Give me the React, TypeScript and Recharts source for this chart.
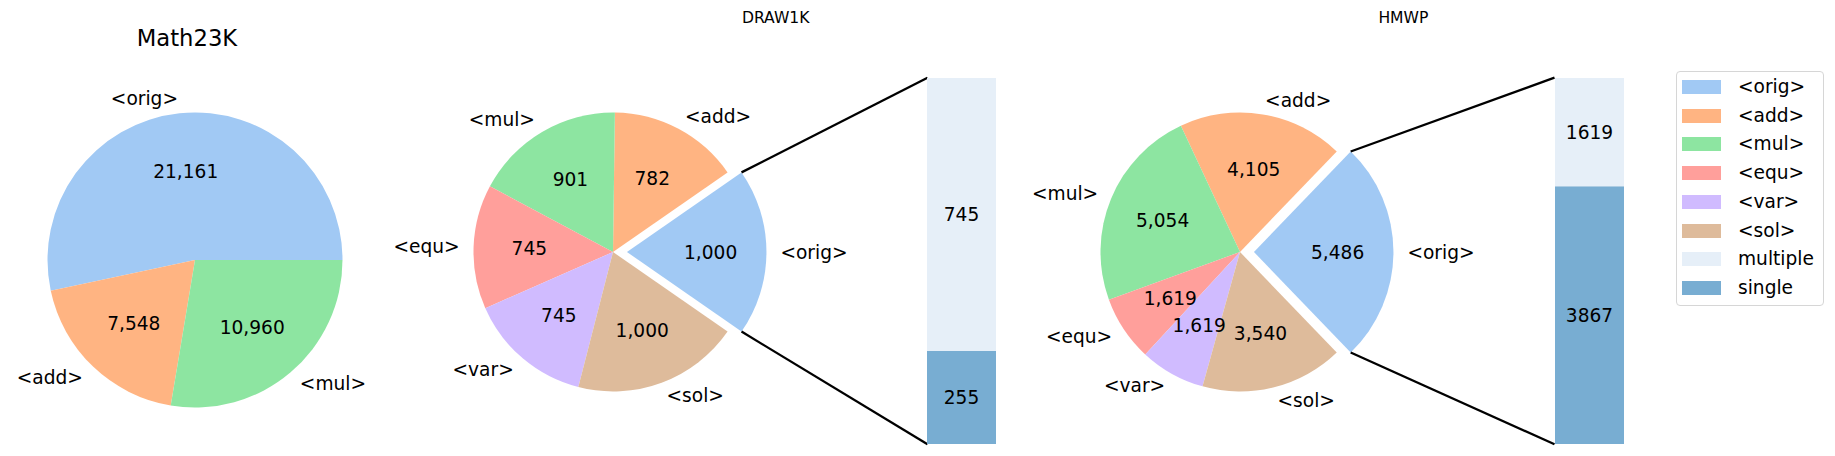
import { Bar, BarChart, Cell, LabelList, Pie, PieChart, XAxis, YAxis } from "recharts";

const FONT = "'DejaVu Sans', 'Liberation Sans', sans-serif";

// categories shared by every pie
const categories = ["<orig>", "<add>", "<mul>", "<equ>", "<var>", "<sol>"];
const palette = ["#a1c9f4", "#ffb482", "#8de5a1", "#ff9f9b", "#d0bbff", "#debb9b"];

// Math23K only has three of them
const math23kNames = ["<orig>", "<add>", "<mul>"];
const math23kValues = [21161, 7548, 10960];

const draw1kValues = [1000, 782, 901, 745, 745, 1000];
const hmwpValues = [5486, 4105, 5054, 1619, 1619, 3540];

// the <orig> slice split, bottom first
const splitNames = ["single", "multiple"];
const splitColors = ["#78add2", "#e6eff8"];
const draw1kSplit = [255, 745];
const hmwpSplit = [3867, 1619];

const legendNames = [...categories, splitNames[1], splitNames[0]];
const legendColors = [...palette, splitColors[1], splitColors[0]];

const RADIAN = Math.PI / 180;
const NO_MARGIN = { top: 0, right: 0, bottom: 0, left: 0 };
const CW = 640;
const P = 240;
const CY = 252;
const R = 139.5;
const EXPLODE = 0.1 * R;
const BAR_OFF = 314.5;
const BAR_W = 69;
const BAR_TOP = 77.7;
const BAR_H = 366.6;

const fmt = (v: number) => v.toLocaleString("en-US");

function renderLabel(props: any) {
  const { cx, cy, midAngle, outerRadius, value } = props;
  const name = props.name ?? props.payload?.name;
  const cos = Math.cos(-midAngle * RADIAN);
  const sin = Math.sin(-midAngle * RADIAN);
  const lx = cx + outerRadius * 1.1 * cos;
  const ly = cy + outerRadius * 1.1 * sin;
  const vx = cx + outerRadius * 0.6 * cos;
  const vy = cy + outerRadius * 0.6 * sin;
  return (
    <g>
      <text
        x={lx}
        y={ly}
        textAnchor={cos >= 0 ? "start" : "end"}
        dominantBaseline="central"
        fontFamily={FONT}
        fontSize={18.6}
        fill="#000"
      >
        {name}
      </text>
      <text
        x={vx}
        y={vy}
        textAnchor="middle"
        dominantBaseline="central"
        fontFamily={FONT}
        fontSize={18.6}
        fill="#000"
      >
        {fmt(value)}
      </text>
    </g>
  );
}

function Math23KPie() {
  const data = math23kNames.map((name, i) => ({ name, value: math23kValues[i] }));
  return (
    <div style={{ position: "absolute", left: 0, top: 0 }}>
      <div
        style={{
          position: "absolute",
          left: 187,
          top: 38,
          transform: "translate(-50%, -50%)",
          fontFamily: FONT,
          fontSize: 22.7,
          whiteSpace: "nowrap",
        }}
      >
        Math23K
      </div>
      <PieChart width={380} height={456} margin={NO_MARGIN}>
        <Pie
          data={data}
          dataKey="value"
          nameKey="name"
          cx={195}
          cy={260}
          outerRadius={147.5}
          startAngle={0}
          endAngle={360}
          stroke="none"
          label={renderLabel}
          labelLine={false}
          isAnimationActive={false}
        >
          {data.map((d, i) => (
            <Cell key={d.name} fill={palette[i]} />
          ))}
        </Pie>
      </PieChart>
    </div>
  );
}

function BarOfPie({
  title,
  values,
  split,
  center,
}: {
  title: string;
  values: number[];
  split: number[];
  center: number;
}) {
  const total = values.reduce((a, b) => a + b, 0);
  const half = ((values[0] / total) * 360) / 2;
  const orig = [{ name: categories[0], value: values[0] }];
  const rest = categories.slice(1).map((name, i) => ({ name, value: values[i + 1] }));
  const splitTotal = split.reduce((a, b) => a + b, 0);
  const barRow = [{ name: "orig", single: split[0], multiple: split[1] }];

  // connection lines from the exploded wedge edge to the bar corners
  const ex = P + EXPLODE + R * Math.cos(half * RADIAN);
  const dy = R * Math.sin(half * RADIAN);
  const bx = P + BAR_OFF;

  return (
    <div style={{ position: "absolute", left: center - P, top: 0, width: CW, height: 456 }}>
      <div
        style={{
          position: "absolute",
          left: P + 163,
          top: 18,
          transform: "translate(-50%, -50%)",
          fontFamily: FONT,
          fontSize: 15.6,
          whiteSpace: "nowrap",
        }}
      >
        {title}
      </div>
      <div style={{ position: "absolute", left: 0, top: 0 }}>
        <PieChart width={CW} height={456} margin={NO_MARGIN}>
          <Pie
            data={rest}
            dataKey="value"
            nameKey="name"
            cx={P}
            cy={CY}
            outerRadius={R}
            startAngle={half}
            endAngle={360 - half}
            stroke="none"
            label={renderLabel}
            labelLine={false}
            isAnimationActive={false}
          >
            {rest.map((d, i) => (
              <Cell key={d.name} fill={palette[i + 1]} />
            ))}
          </Pie>
          <Pie
            data={orig}
            dataKey="value"
            nameKey="name"
            cx={P + EXPLODE}
            cy={CY}
            outerRadius={R}
            startAngle={-half}
            endAngle={half}
            stroke="none"
            label={renderLabel}
            labelLine={false}
            isAnimationActive={false}
          >
            <Cell fill={palette[0]} />
          </Pie>
        </PieChart>
      </div>
      <svg
        width={CW}
        height={456}
        style={{ position: "absolute", left: 0, top: 0, pointerEvents: "none" }}
      >
        <line x1={ex} y1={CY - dy} x2={bx} y2={BAR_TOP} stroke="#000" strokeWidth={2.3} />
        <line x1={ex} y1={CY + dy} x2={bx} y2={BAR_TOP + BAR_H} stroke="#000" strokeWidth={2.3} />
      </svg>
      <div style={{ position: "absolute", left: bx, top: BAR_TOP }}>
        <BarChart
          width={BAR_W}
          height={BAR_H}
          data={barRow}
          margin={NO_MARGIN}
          barCategoryGap={0}
        >
          <XAxis dataKey="name" hide />
          <YAxis hide domain={[0, splitTotal]} allowDataOverflow />
          <Bar dataKey="single" stackId="s" fill={splitColors[0]} isAnimationActive={false}>
            <LabelList dataKey="single" position="center" fill="#000" fontSize={18.6} fontFamily={FONT} />
          </Bar>
          <Bar dataKey="multiple" stackId="s" fill={splitColors[1]} isAnimationActive={false}>
            <LabelList dataKey="multiple" position="center" fill="#000" fontSize={18.6} fontFamily={FONT} />
          </Bar>
        </BarChart>
      </div>
    </div>
  );
}

function LegendBox() {
  return (
    <div
      style={{
        position: "absolute",
        left: 1676,
        top: 71,
        width: 148,
        height: 235,
        border: "1px solid #d6d6d6",
        borderRadius: 4,
        boxSizing: "border-box",
        fontFamily: FONT,
        fontSize: 18.6,
      }}
    >
      {legendNames.map((name, i) => (
        <div key={name} style={{ position: "absolute", left: 0, top: 15 + i * 28.7 }}>
          <div
            style={{
              position: "absolute",
              left: 5,
              top: -7,
              width: 39,
              height: 14,
              background: legendColors[i],
            }}
          />
          <div
            style={{
              position: "absolute",
              left: 61,
              top: 0,
              transform: "translateY(-50%)",
              whiteSpace: "nowrap",
              lineHeight: 1,
            }}
          >
            {name}
          </div>
        </div>
      ))}
    </div>
  );
}

export default function App() {
  return (
    <div
      style={{
        position: "absolute",
        left: 0,
        top: 0,
        width: 1835,
        height: 456,
        background: "#fff",
        overflow: "hidden",
      }}
    >
      <Math23KPie />
      <BarOfPie title="DRAW1K" values={draw1kValues} split={draw1kSplit} center={612.7} />
      <BarOfPie title="HMWP" values={hmwpValues} split={hmwpSplit} center={1240.4} />
      <LegendBox />
    </div>
  );
}
